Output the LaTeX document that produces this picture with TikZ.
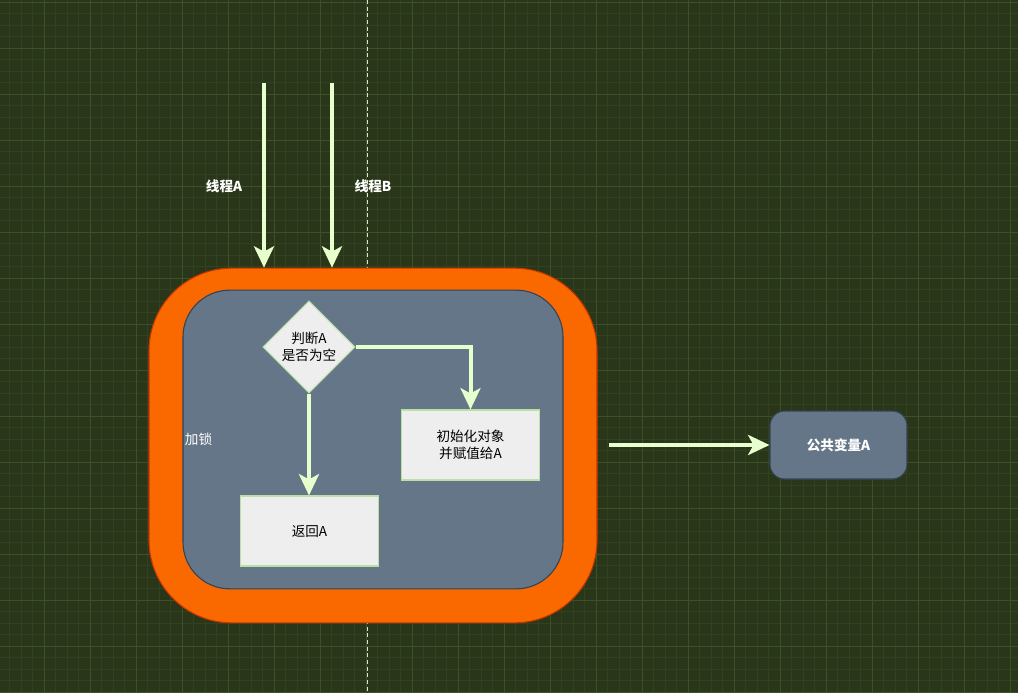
\documentclass[tikz,border=0pt]{standalone}
\usepackage{fontspec}
\setmainfont{Noto Sans CJK SC}
\usetikzlibrary{shapes.geometric,arrows.meta}
\definecolor{bgc}{HTML}{2A361A}
\definecolor{gridminor}{HTML}{324220}
\definecolor{gridmajor}{HTML}{3C5226}
\definecolor{arrowc}{HTML}{E6FFCC}
\definecolor{orangef}{HTML}{FA6800}
\definecolor{oranged}{HTML}{C73500}
\definecolor{slatef}{HTML}{647687}
\definecolor{slated}{HTML}{314354}
\definecolor{boxf}{HTML}{EEEEEE}
\definecolor{boxd}{HTML}{B9E0A5}
\tikzset{
  flow/.style={draw=arrowc, line width=3pt, -{Stealth[length=16pt,width=15pt,inset=4pt]}},
  procbox/.style={rectangle, draw=boxd, fill=boxf, line width=0.8pt, minimum width=104pt, minimum height=52.5pt, inner sep=0pt, align=center, font=\fontsize{10.2}{13}\selectfont, text=black},
  decbox/.style={diamond, draw=boxd, fill=boxf, line width=0.8pt, minimum width=69pt, minimum height=69pt, inner sep=0pt, align=center, font=\fontsize{10.2}{13}\selectfont, text=black},
  wlabel/.style={text=white, font=\fontsize{10.2}{12}\selectfont\bfseries, inner sep=0pt},
}
\begin{document}
\begin{tikzpicture}[x=0.75pt,y=-0.75pt]
\useasboundingbox (0,0) rectangle (1018,693);
\fill[bgc] (0,0) rectangle (1018,693);
\foreach \gx in {9.5,21,...,1018} \draw[gridminor, line width=0.45pt] (\gx,0) -- (\gx,693);
\foreach \gy in {2,13.5,...,693} \draw[gridminor, line width=0.45pt] (0,\gy) -- (1018,\gy);
\foreach \gx in {44,90,...,1018} \draw[gridmajor, line width=0.6pt] (\gx,0) -- (\gx,693);
\foreach \gy in {2,48,...,693} \draw[gridmajor, line width=0.6pt] (0,\gy) -- (1018,\gy);
% dashed divider
\coordinate (dtop) at (367,0);
\coordinate (dbot) at (367,693);
\draw[white!85!bgc, line width=0.7pt, dash pattern=on 3pt off 2pt] (dtop) -- (dbot);
% lock box
\node (lock) at (373,445.5) [rectangle, rounded corners=62pt, draw=oranged, fill=orangef, line width=0.8pt, minimum width=336pt, minimum height=266pt, inner sep=0pt] {};
\node (inner) at (373,439.5) [rectangle, rounded corners=35pt, draw=slated, fill=slatef, line width=0.8pt, minimum width=285pt, minimum height=224pt, inner sep=0pt] {};
\node (locklbl) at (198.5,439) [text=white, font=\fontsize{10.2}{12}\selectfont, inner sep=0pt] {加锁};
% flow nodes
\node (dec) at (309,347) [decbox] {判断A\\是否为空};
\node (init) at (470.5,445) [procbox] {初始化对象\\并赋值给A};
\node (ret) at (309.5,531) [procbox] {返回A};
\node (pub) at (838.5,445) [rectangle, rounded corners=11pt, draw=slated, fill=slatef, line width=0.8pt, minimum width=102.75pt, minimum height=51pt, inner sep=0pt, text=white, font=\fontsize{10.2}{12}\selectfont\bfseries] {公共变量A};
% thread labels
\node (la) at (224,186) [wlabel] {线程A};
\node (lb) at (373,186) [wlabel] {线程B};
% thread arrows
\coordinate (tA) at (264,83);
\coordinate (tB) at (332,83);
\draw[flow] (tA) -- (tA |- lock.north);
\draw[flow] (tB) -- (tB |- lock.north);
% inner arrows
\draw[flow] (dec.east) -| (init.north);
\draw[flow] (dec.south) -- (dec.south |- ret.north);
% to public variable
\coordinate (out) at (609,445);
\draw[flow] (out) -- (pub.west);
\end{tikzpicture}
\end{document}
